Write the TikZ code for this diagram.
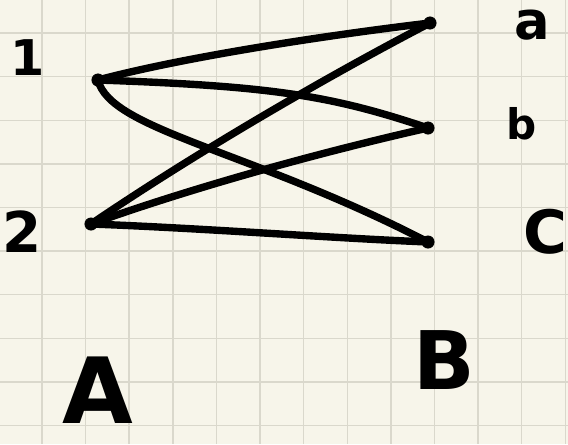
\documentclass[tikz,border=0pt]{standalone}
\usepackage{fontspec}
\setmainfont{DejaVu Sans}
\usepackage{xcolor}
\usepackage{tikz}
\usetikzlibrary{positioning, calc}
\definecolor{paper}{HTML}{F7F5EA}
\definecolor{gridline}{HTML}{DAD8CC}
\tikzset{
  % Graph styles
  vertex/.style={circle, fill=black, draw=black, inner sep=0pt, minimum size=7pt},
  edge/.style={line width=4.2pt, line cap=round, draw=black},
  lbl/.style={text=black, inner sep=0pt, font={\fontsize{#1}{#1}\selectfont\bfseries}},
  lbl/.default={40},
}
\begin{document}
\begin{tikzpicture}[x=0.02cm, y=-0.02cm]
    % Paper and grid
    \fill[paper] (0,0) rectangle (568,444);
    \useasboundingbox (0,0) rectangle (568,444);
    \foreach \i in {0,...,12} {
      \draw[gridline, line width=0.8pt] ({42+43.6*\i},0) -- ({42+43.6*\i},444);
    }
    \foreach \j in {0,...,9} {
      \draw[gridline, line width=0.8pt] (0,{33+43.6*\j}) -- (568,{33+43.6*\j});
    }
    % Left side A
    \node[vertex] (v1) at (98,80) {};
    \node[vertex] (v2) at (91,224) {};
    % Right side B
    \node[vertex] (va) at (430,23) {};
    \node[vertex] (vb) at (428,128) {};
    \node[vertex] (vc) at (428,242) {};
    % Edges
    \draw[edge] (v1.center) .. controls (180,58) and (320,36) .. (va.center);
    \draw[edge] (v1.center) .. controls (270,86) and (330,95) .. (vb.center);
    \draw[edge] (v1.center) .. controls (110,130) and (250,150) .. (vc.center);
    \draw[edge] (v2.center) .. controls (200,150) and (330,75) .. (va.center);
    \draw[edge] (v2.center) .. controls (200,185) and (330,150) .. (vb.center);
    \draw[edge] (v2.center) .. controls (200,228) and (330,238) .. (vc.center);
    % Vertex labels
    \node[lbl=28] (l1) at (28,58) {1};
    \node[lbl=32] (l2) at (22,232) {2};
    \node[lbl=30] (la) at (532,25) {a};
    \node[lbl=24] (lb) at (522,124) {b};
    \node[lbl=34] (lc) at (545,232) {C};
    % Part labels
    \node[lbl=52] (lA) at (98,390) {A};
    \node[lbl=46] (lB) at (444,360) {B};
\end{tikzpicture}
\end{document}
